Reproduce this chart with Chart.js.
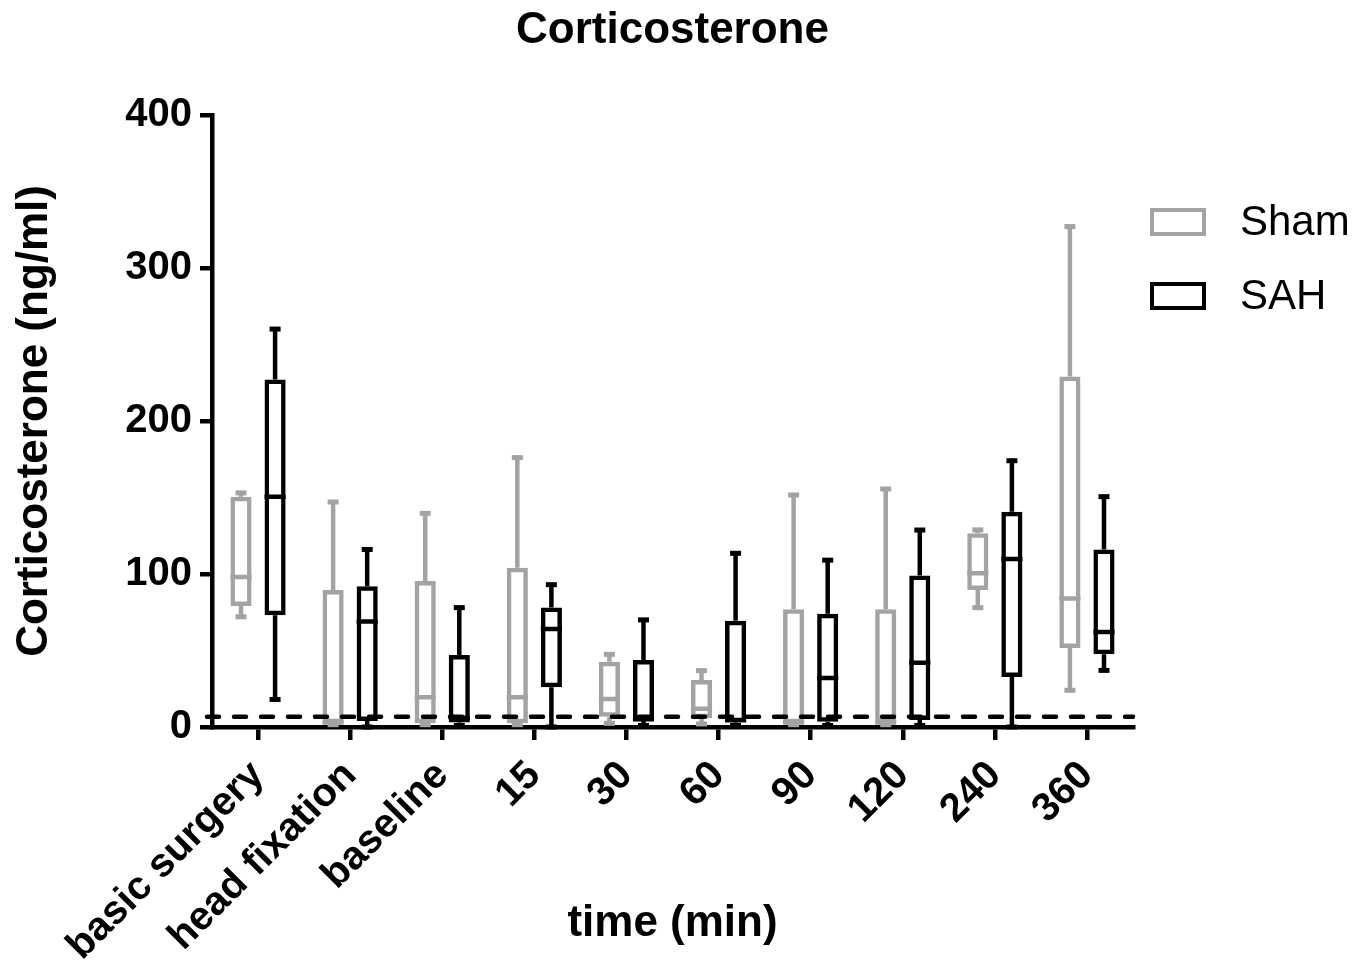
<!DOCTYPE html>
<html>
<head>
<meta charset="utf-8">
<title>Corticosterone</title>
<script src="https://cdn.jsdelivr.net/npm/chart.js@4.4.0/dist/chart.umd.min.js"></script>
<style>
  html, body { margin: 0; padding: 0; background: #ffffff; }
  #chartWrap { width: 1367px; height: 964px; }
</style>
</head>
<body>
<div id="chartWrap"><canvas id="corticoChart"></canvas></div>
<script>
const categories = ["basic surgery", "head fixation", "baseline", "15", "30", "60", "90", "120", "240", "360"];

// Sham (grey)
const shamMin = [72, 1.5, 1.5, 1.5, 2.4, 2, 1.5, 1.5, 78, 24];
const shamQ1 = [79, 2.5, 2.5, 2.5, 6.7, 5.7, 2.5, 2.5, 89.5, 51.6];
const shamMedian = [98, 3, 19.4, 19.5, 18.3, 12, 3, 3, 100.4, 84];
const shamQ3 = [150.5, 89.5, 95.4, 104, 42.7, 30.7, 77, 77, 126.6, 229];
const shamMax = [153, 147, 139.6, 176, 47.5, 36.8, 151.6, 155.5, 128.8, 327];

// SAH (black)
const sahMin = [18, 0, 1, 0, 1, 1, 1, 1, 0, 37];
const sahQ1 = [73, 4, 3, 26, 4, 3, 3.5, 4.5, 32.7, 47.5];
const sahMedian = [150.5, 69, 6, 64, 5, 4.5, 32, 42, 109.8, 62];
const sahQ3 = [227, 92, 47, 78, 43.8, 69.5, 74, 99, 140.7, 116];
const sahMax = [260, 116, 78, 93, 70, 113.5, 109, 128.7, 174, 150.5];

// detection limit (dashed line)
const detectionLimit = 6.7;

const grey = "#a3a3a6";
const black = "#000000";
const fontFamily = "'Liberation Sans', Arial, Helvetica, sans-serif";
const lineW = 4.5;

Chart.defaults.font.family = fontFamily;
Chart.defaults.color = black;

// whiskers, medians, dashed line
const boxExtras = {
  id: "boxExtras",
  afterDatasetsDraw(chart) {
    const ctx = chart.ctx;
    const yScale = chart.scales.y;
    chart.data.datasets.forEach((ds, d) => {
      const meta = chart.getDatasetMeta(d);
      meta.data.forEach((bar, i) => {
        const x = bar.x;
        const half = bar.width / 2;
        const yMin = yScale.getPixelForValue(ds.stats.min[i]);
        const yQ1 = yScale.getPixelForValue(ds.stats.q1[i]);
        const yMed = yScale.getPixelForValue(ds.stats.median[i]);
        const yQ3 = yScale.getPixelForValue(ds.stats.q3[i]);
        const yMax = yScale.getPixelForValue(ds.stats.max[i]);

        ctx.save();
        ctx.strokeStyle = ds.borderColor;
        ctx.fillStyle = ds.borderColor;
        ctx.lineWidth = lineW;
        ctx.beginPath();
        ctx.moveTo(x, yQ3);
        ctx.lineTo(x, yMax);
        ctx.moveTo(x, yQ1);
        ctx.lineTo(x, yMin);
        ctx.moveTo(x - half, yMed);
        ctx.lineTo(x + half, yMed);
        ctx.stroke();
        // caps
        ctx.fillRect(x - 5.5, yMax - 2.5, 11, 5);
        ctx.fillRect(x - 5.5, yMin - 2.5, 11, 5);
        ctx.restore();
      });
    });

    const area = chart.chartArea;
    const yLim = yScale.getPixelForValue(detectionLimit);
    ctx.save();
    ctx.strokeStyle = black;
    ctx.lineWidth = lineW;
    ctx.lineCap = "round";
    ctx.setLineDash([12, 15]);
    ctx.beginPath();
    ctx.moveTo(area.left - 5, yLim);
    ctx.lineTo(area.right, yLim);
    ctx.stroke();
    ctx.restore();
  },
  afterDraw(chart) {
    // legend on the right
    const ctx = chart.ctx;
    const x0 = chart.chartArea.right + 19;
    ctx.save();
    chart.data.datasets.forEach((ds, d) => {
      const yc = 222 + d * 74;
      ctx.strokeStyle = ds.borderColor;
      ctx.lineWidth = 4;
      ctx.strokeRect(x0, yc - 12, 52, 24);
      ctx.fillStyle = black;
      ctx.font = "42px " + fontFamily;
      ctx.textBaseline = "middle";
      ctx.textAlign = "left";
      ctx.fillText(ds.label, x0 + 88, yc + 1);
    });
    ctx.restore();
  },
};

const ctx = document.getElementById("corticoChart").getContext("2d");
new Chart(ctx, {
  type: "bar",
  data: {
    labels: categories,
    datasets: [
      {
        label: "Sham",
        data: shamQ1.map((v, i) => [v, shamQ3[i]]),
        stats: { min: shamMin, q1: shamQ1, median: shamMedian, q3: shamQ3, max: shamMax },
        backgroundColor: "rgba(255,255,255,0)",
        borderColor: grey,
        borderWidth: lineW,
        borderSkipped: false,
      },
      {
        label: "SAH",
        data: sahQ1.map((v, i) => [v, sahQ3[i]]),
        stats: { min: sahMin, q1: sahQ1, median: sahMedian, q3: sahQ3, max: sahMax },
        backgroundColor: "rgba(255,255,255,0)",
        borderColor: black,
        borderWidth: lineW,
        borderSkipped: false,
      },
    ],
  },
  options: {
    responsive: true,
    maintainAspectRatio: false,
    animation: false,
    categoryPercentage: 0.74,
    barPercentage: 0.62,
    layout: { padding: { top: 0, right: 234, bottom: 0, left: 0 } },
    scales: {
      x: {
        offset: true,
        grid: {
          offset: false,
          drawOnChartArea: false,
          drawTicks: true,
          tickLength: 13,
          lineWidth: lineW,
          color: black,
        },
        border: { display: true, width: lineW, color: black },
        ticks: {
          autoSkip: false,
          minRotation: 45,
          maxRotation: 45,
          padding: 12,
          color: black,
          font: { size: 40, weight: "bold" },
        },
        title: {
          display: true,
          text: "time (min)",
          color: black,
          font: { size: 44, weight: "bold" },
          padding: { top: 0, bottom: 14 },
        },
        afterFit: (scale) => {
          scale.height = 237;
        },
      },
      y: {
        min: 0,
        max: 400,
        grid: {
          drawOnChartArea: false,
          drawTicks: true,
          tickLength: 12,
          lineWidth: lineW,
          color: black,
        },
        border: { display: true, width: lineW, color: black },
        ticks: {
          stepSize: 100,
          padding: 8,
          color: black,
          font: { size: 40, weight: "bold" },
        },
        title: {
          display: true,
          text: "Corticosterone (ng/ml)",
          color: black,
          font: { size: 44, weight: "bold" },
          padding: { top: 8 },
        },
        afterFit: (scale) => {
          scale.width = 212;
        },
      },
    },
    plugins: {
      legend: { display: false },
      tooltip: { enabled: false },
      title: {
        display: true,
        fullSize: false,
        text: "Corticosterone",
        color: black,
        font: { size: 44, weight: "bold" },
        padding: { top: 4, bottom: 58 },
      },
    },
  },
  plugins: [boxExtras],
});
</script>
</body>
</html>
